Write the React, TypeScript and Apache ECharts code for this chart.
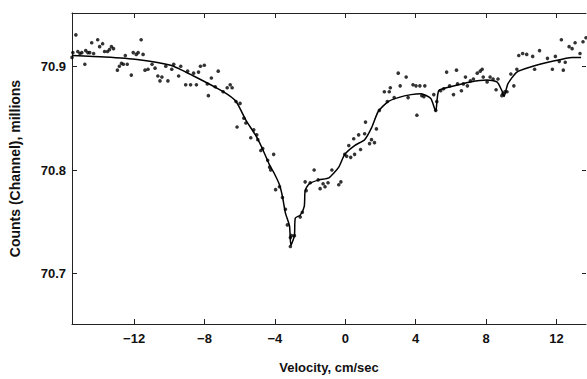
import React, { useEffect, useRef } from "react";
import * as echarts from "echarts";

// Fitted curve (velocity cm/sec, counts in millions)
const fitVelocity = [
  -15.53, -13.68, -11.83, -9.92, -8.62, -6.94, -6.21, -5.65, -5.08, -4.69, -4.3, -4.02, -3.74,
  -3.57, -3.4, -3.17, -3.09, -2.89, -2.84, -2.56, -2.33, -2.28, -2.05, -1.49, -0.93, -0.37,
  -0.03, 0.53, 1.1, 1.49, 1.88, 2.44, 3.01, 3.74, 4.3, 4.86, 5.14, 5.31, 5.98, 7.11, 8.06, 8.62,
  8.9, 9.02, 9.24, 9.75, 10.48, 11.77, 12.89, 13.4,
];
const fitCounts = [
  70.9109, 70.9095, 70.9071, 70.9014, 70.891, 70.8758, 70.8663, 70.8483, 70.8332, 70.8199,
  70.8047, 70.7962, 70.7858, 70.7744, 70.7583, 70.746, 70.727, 70.7365, 70.7535, 70.7564,
  70.7649, 70.7801, 70.7867, 70.7905, 70.7924, 70.8028, 70.8152, 70.8237, 70.8294, 70.8408,
  70.8569, 70.8663, 70.8701, 70.873, 70.8739, 70.8692, 70.8569, 70.8768, 70.8806, 70.8853,
  70.8872, 70.8853, 70.8768, 70.8711, 70.8834, 70.8948, 70.8995, 70.9052, 70.909, 70.909,
];

// Measured points
const obsVelocity = [
  -15.53, -15.48, -15.31, -15.2, -15.08, -14.97, -14.8, -14.75, -14.63, -14.52, -14.41, -14.3,
  -14.07, -13.96, -13.79, -13.68, -13.51, -13.4, -13.29, -13.17, -12.95, -12.84, -12.72, -12.61,
  -12.5, -12.39, -12.16, -12.05, -11.88, -11.77, -11.6, -11.49, -11.38, -11.21, -10.98, -10.81,
  -10.65, -10.53, -10.42, -10.2, -10.08, -9.86, -9.75, -9.47, -9.35, -9.07, -8.96, -8.79, -8.62,
  -8.46, -8.34, -8.23, -8.01, -7.84, -7.78, -7.61, -7.39, -7.22, -6.94, -6.71, -6.54, -6.43,
  -6.21, -5.98, -6.15, -5.76, -5.65, -5.37, -5.2, -5.03, -4.97, -4.69, -4.8, -4.07, -4.41, -4.3,
  -4.24, -3.96, -3.74, -3.57, -3.4, -3.29, -3.12, -3.06, -3.12, -2.89, -2.56, -2.44, -2.22,
  -2.28, -1.99, -1.77, -1.54, -1.43, -1.26, -1.15, -0.98, -0.76, -0.37, -0.25, -0.03, 0.08, 0.31,
  0.2, 0.53, 0.48, 0.76, 0.87, 1.1, 1.15, 1.38, 1.49, 1.66, 1.77, 1.94, 2.22, 2.5, 2.56, 2.39,
  2.78, 3.01, 3.12, 3.46, 3.57, 3.85, 4.02, 4.24, 4.52, 4.07, 4.35, 4.47, 5.03, 5.14, 5.2, 5.42,
  5.59, 5.76, 5.93, 6.15, 6.32, 6.38, 6.6, 6.71, 6.83, 6.94, 7.11, 7.28, 7.5, 7.67, 7.78, 7.84,
  8.06, 8.23, 8.4, 8.57, 8.68, 8.9, 8.96, 9.07, 9.19, 9.41, 9.58, 9.75, 9.86, 10.08, 10.31,
  10.65, 10.76, 11.04, 11.49, 11.77, 11.94, 12.16, 12.28, 12.39, 12.5, 12.72, 12.89, 13.06,
  13.34, 13.51, 13.68,
];
const obsCounts = [
  70.909, 70.9137, 70.9308, 70.9147, 70.9128, 70.9137, 70.9024, 70.9156, 70.9137, 70.9137,
  70.9232, 70.9128, 70.9261, 70.9194, 70.9223, 70.9147, 70.9147, 70.9166, 70.9194, 70.9175,
  70.8967, 70.9005, 70.9033, 70.9024, 70.9109, 70.9024, 70.8919, 70.9137, 70.9119, 70.9137,
  70.9261, 70.9119, 70.8967, 70.8976, 70.9024, 70.8986, 70.891, 70.8863, 70.89, 70.9005,
  70.8863, 70.8976, 70.9024, 70.891, 70.9005, 70.8825, 70.8957, 70.8825, 70.8938, 70.8825,
  70.8948, 70.9005, 70.9014, 70.8834, 70.872, 70.8891, 70.8806, 70.8957, 70.8758, 70.8796,
  70.8825, 70.8796, 70.8663, 70.8645, 70.8417, 70.8502, 70.8455, 70.8313, 70.8389, 70.8341,
  70.8294, 70.8208, 70.8189, 70.8152, 70.8095, 70.8028, 70.8, 70.781, 70.7839, 70.7734,
  70.7621, 70.7469, 70.7346, 70.7365, 70.726, 70.7365, 70.7545, 70.7592, 70.7801, 70.7886,
  70.7877, 70.8, 70.7905, 70.782, 70.7867, 70.7839, 70.7877, 70.8, 70.7858, 70.7886, 70.8152,
  70.8133, 70.8123, 70.8237, 70.8152, 70.8303, 70.8341, 70.8199, 70.8351, 70.8464, 70.8256,
  70.8294, 70.8265, 70.8398, 70.8578, 70.8758, 70.8758, 70.8796, 70.8663, 70.8701, 70.8938,
  70.8815, 70.89, 70.8701, 70.8825, 70.8815, 70.8815, 70.8815, 70.8531, 70.872, 70.8711,
  70.873, 70.8578, 70.8663, 70.8768, 70.8787, 70.8948, 70.8815, 70.873, 70.8967, 70.8834,
  70.8768, 70.8834, 70.89, 70.8815, 70.8863, 70.8881, 70.8938, 70.8957, 70.8976, 70.89,
  70.8853, 70.89, 70.8881, 70.8777, 70.8881, 70.872, 70.8739, 70.8758, 70.8758, 70.8929,
  70.8815, 70.8976, 70.9109, 70.9128, 70.9119, 70.91, 70.8976, 70.9156, 70.9081, 70.8976,
  70.91, 70.9052, 70.9261, 70.8967, 70.9043, 70.9194, 70.9175, 70.9232, 70.9128, 70.9242,
  70.928,
];

const xTicks = [-12, -8, -4, 0, 4, 8, 12];
const yTicks = [70.7, 70.8, 70.9];

const X_MIN = -15.53;
const X_MAX = 13.68;
const Y_MIN = 70.651;
const Y_MAX = 70.952;

export default function App() {
  const ref = useRef<HTMLDivElement>(null);

  useEffect(() => {
    if (!ref.current) return;
    const chart = echarts.init(ref.current, null, { renderer: "svg" });
    const ink = "#000";
    const font = "Liberation Sans";
    const lineStyle = { color: "#222", width: 1 };
    const fmtX = (v: number) => (v < 0 ? "\u2212" + Math.abs(v) : String(v));

    chart.setOption({
      animation: false,
      backgroundColor: "#fff",
      grid: { left: 67, right: 1, top: 13, bottom: 49 },
      xAxis: [
        {
          type: "value",
          min: X_MIN,
          max: X_MAX,
          position: "bottom",
          name: "Velocity, cm/sec",
          nameLocation: "middle",
          nameGap: 37,
          nameTextStyle: { color: "#111", fontFamily: font, fontSize: 13, fontWeight: "bold" },
          axisLine: { show: true, onZero: false, lineStyle },
          axisTick: { show: true, inside: true, length: 5, lineStyle, customValues: xTicks },
          axisLabel: {
            show: true,
            margin: 8,
            color: "#111",
            fontFamily: font,
            fontSize: 13,
            fontWeight: "bold",
            customValues: xTicks,
            formatter: fmtX,
          },
          splitLine: { show: false },
        },
        {
          type: "value",
          min: X_MIN,
          max: X_MAX,
          position: "top",
          axisLine: { show: true, onZero: false, lineStyle },
          axisTick: { show: true, inside: true, length: 5, lineStyle, customValues: xTicks },
          axisLabel: { show: false },
          splitLine: { show: false },
        },
      ],
      yAxis: [
        {
          type: "value",
          min: Y_MIN,
          max: Y_MAX,
          position: "left",
          name: "Counts (Channel), millions",
          nameLocation: "middle",
          nameGap: 50,
          nameTextStyle: { color: "#111", fontFamily: font, fontSize: 14, fontWeight: "bold" },
          axisLine: { show: true, onZero: false, lineStyle },
          axisTick: { show: true, inside: true, length: 5, lineStyle, customValues: yTicks },
          axisLabel: {
            show: true,
            margin: 6,
            color: "#111",
            fontFamily: font,
            fontSize: 13,
            fontWeight: "bold",
            customValues: yTicks,
            formatter: (v: number) => v.toFixed(1),
          },
          splitLine: { show: false },
        },
        {
          type: "value",
          min: Y_MIN,
          max: Y_MAX,
          position: "right",
          axisLine: { show: false, onZero: false },
          axisTick: { show: true, inside: true, length: 4, lineStyle, customValues: yTicks },
          axisLabel: { show: false },
          splitLine: { show: false },
        },
      ],
      series: [
        {
          type: "line",
          data: fitVelocity.map((v, i) => [v, fitCounts[i]]),
          showSymbol: false,
          smooth: 0.2,
          lineStyle: { color: ink, width: 1.5 },
          z: 2,
        },
        {
          type: "scatter",
          data: obsVelocity.map((v, i) => [v, obsCounts[i]]),
          symbol: "circle",
          symbolSize: 3.6,
          itemStyle: { color: ink },
          z: 3,
        },
      ],
    });

    return () => chart.dispose();
  }, []);

  return (
    <div
      ref={ref}
      style={{ position: "absolute", left: 0, top: 0, width: 587, height: 379 }}
    />
  );
}
